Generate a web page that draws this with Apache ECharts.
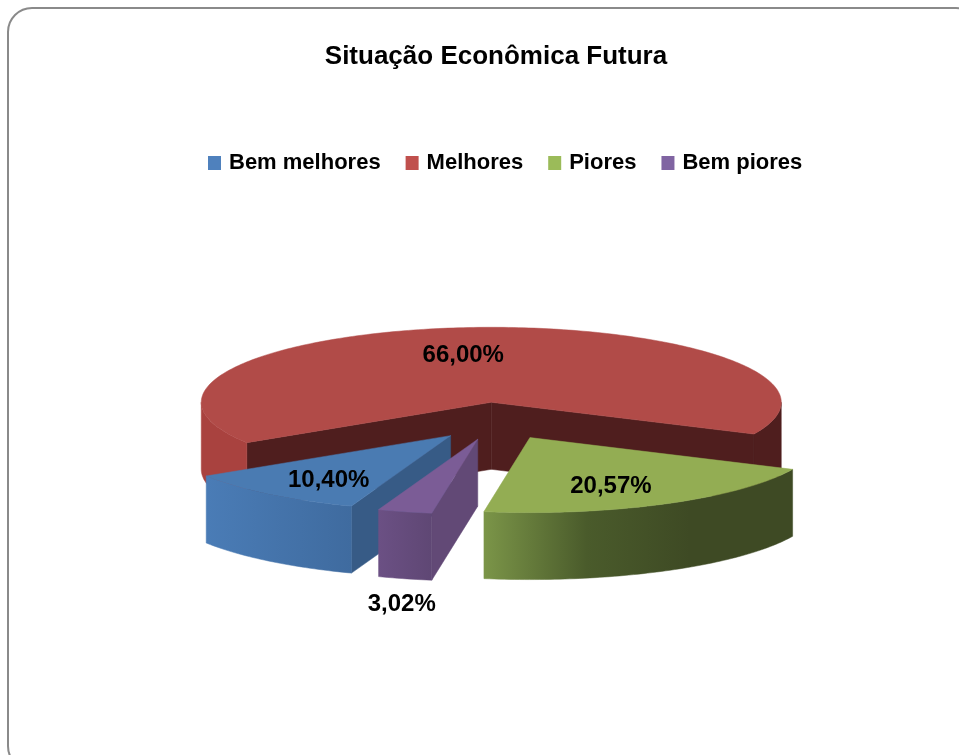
<!DOCTYPE html>
<html>
<head>
<meta charset="utf-8">
<title>Situação Econômica Futura</title>
<script src="https://cdn.jsdelivr.net/npm/echarts@6/dist/echarts.min.js"></script>
<style>
	html, body { margin: 0; padding: 0; background: #fff; }
	#main { width: 959px; height: 755px; }
</style>
</head>
<body>
<div id="main"></div>
<script>
	var chartTitle = 'Situação Econômica Futura';
	var categories = ['Bem melhores', 'Melhores', 'Piores', 'Bem piores'];
	var values = [10.40, 66.00, 20.57, 3.02];

	// the red slice goes first so the ones in front paint over it
	var drawOrder = [1, 0, 2, 3];
	var legendColors = ['#4f81bd', '#c0504d', '#9bbb59', '#8064a2'];
	var sliceStyles = [
		{ top: '#4a7bb2', face: '#375b86', wall: ['#4a7cb6', '#3f6b9f'], label: [-122, 45] },
		{ top: '#b14b48', face: '#4f1e1e', wall: ['#a9423f', '#a9423f'], rightWall: '#4f1e1e', label: [-28, -47] },
		{ top: '#93ad53', face: '#4a5a2a', wall: ['#7b9548', '#4a5b2b', '#3e4a24', '#3e4a24'], label: [81, 49] },
		{ top: '#7b5c96', face: '#624976', wall: ['#6b5084', '#5f4774'], label: [-76, 165] }
	];

	// 3d pie shape
	var pie = { cx: 496, cy: 421, rx: 290, ry: 75, depth: 67, explode: 0.25, firstAngle: 200 };
	var total = values.reduce(function (a, b) { return a + b; }, 0);

	function rad(d) { return d * Math.PI / 180; }

	function sliceAngles(index) {
		var a = pie.firstAngle;
		for (var i = 0; i < index; i++) {
			a += values[i] / total * 360;
		}
		return [a, a + values[index] / total * 360];
	}

	function rim(apex, angle, drop) {
		return [apex[0] + pie.rx * Math.sin(rad(angle)), apex[1] - pie.ry * Math.cos(rad(angle)) + (drop || 0)];
	}

	function arcPoints(apex, from, to, drop) {
		var pts = [];
		for (var a = from; a < to; a += 1) {
			pts.push(rim(apex, a, drop));
		}
		pts.push(rim(apex, to, drop));
		return pts;
	}

	function poly(points, fill) {
		return { type: 'polygon', shape: { points: points }, style: { fill: fill, stroke: fill, lineWidth: 0.5 } };
	}

	function wallFill(colors) {
		return new echarts.graphic.LinearGradient(0, 0, 1, 0, colors.map(function (c, i) {
			return { offset: i / (colors.length - 1), color: c };
		}));
	}

	function faceItem(apex, angle, fill) {
		var p = rim(apex, angle);
		return poly([apex, p, [p[0], p[1] + pie.depth], [apex[0], apex[1] + pie.depth]], fill);
	}

	function renderSlice(index, value) {
		var ang = sliceAngles(index);
		var st = sliceStyles[index];
		var mid = (ang[0] + ang[1]) / 2;
		var apex = [
			pie.cx + pie.explode * pie.rx * Math.sin(rad(mid)),
			pie.cy - pie.explode * pie.ry * Math.cos(rad(mid))
		];
		var children = [];

		// side cuts, only the ones turned to the viewer
		if (Math.sin(rad(ang[0])) < 0) children.push(faceItem(apex, ang[0], st.face));
		if (Math.sin(rad(ang[1])) > 0) children.push(faceItem(apex, ang[1], st.face));

		// outer wall, front half of the ellipse only
		for (var k = 0; k < 2; k++) {
			var lo = Math.max(ang[0], 90 + 360 * k);
			var hi = Math.min(ang[1], 270 + 360 * k);
			if (lo < hi) {
				var upper = arcPoints(apex, lo, hi);
				var lower = arcPoints(apex, lo, hi, pie.depth).reverse();
				var isRight = st.rightWall && hi < 270 + 360 * k;
				children.push(poly(upper.concat(lower), isRight ? st.rightWall : wallFill(st.wall)));
			}
		}

		children.push(poly([apex].concat(arcPoints(apex, ang[0], ang[1])), st.top));

		children.push({
			type: 'text',
			style: {
				text: value.toFixed(2).replace('.', ',') + '%',
				x: apex[0] + st.label[0],
				y: apex[1] + st.label[1],
				textAlign: 'center',
				textVerticalAlign: 'middle',
				fill: '#000',
				font: 'bold 24px "Liberation Sans"'
			}
		});
		return { type: 'group', children: children };
	}

	var option = {
		animation: false,
		backgroundColor: '#fff',
		title: {
			text: chartTitle,
			left: 491,
			top: 39,
			textAlign: 'center',
			textStyle: { color: '#000', fontFamily: 'Liberation Sans', fontWeight: 'bold', fontSize: 26 }
		},
		legend: {
			data: categories,
			left: 203,
			top: 147,
			icon: 'rect',
			itemWidth: 13,
			itemHeight: 14,
			itemGap: 25,
			textStyle: { color: '#000', fontFamily: 'Liberation Sans', fontWeight: 'bold', fontSize: 22, padding: [0, 0, 0, 3] }
		},
		graphic: [{
			type: 'rect',
			silent: true,
			z: -1,
			shape: { x: 8, y: 8, width: 972, height: 762, r: 24 },
			style: { fill: '#fff', stroke: '#8a8a8a', lineWidth: 2 }
		}],
		series: drawOrder.map(function (i) {
			return {
				type: 'custom',
				name: categories[i],
				coordinateSystem: 'none',
				itemStyle: { color: legendColors[i] },
				data: [[values[i]]],
				renderItem: function (params, api) {
					return renderSlice(i, api.value(0));
				}
			};
		})
	};

	var myChart = echarts.init(document.getElementById('main'));
	myChart.setOption(option);
</script>
</body>
</html>
